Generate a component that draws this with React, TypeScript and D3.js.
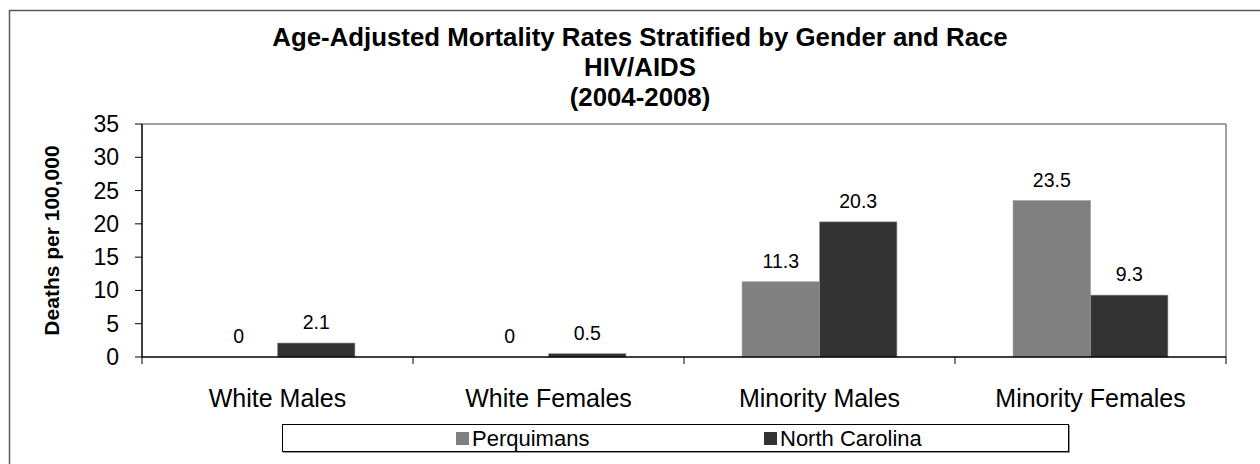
import React from 'react';
import * as d3 from 'd3';

const categories = ['White Males', 'White Females', 'Minority Males', 'Minority Females'];
const seriesNames = ['Perquimans', 'North Carolina'];
const perquimans = [0, 0, 11.3, 23.5];
const northCarolina = [2.1, 0.5, 20.3, 9.3];
const yTicks = [0, 5, 10, 15, 20, 25, 30, 35];
const titleLines = ['Age-Adjusted Mortality Rates Stratified by Gender and Race', 'HIV/AIDS', '(2004-2008)'];

const colors = ['#808080', '#333333'];
const font = 'Arial, "Liberation Sans", sans-serif';

const W = 1260;
const H = 464;
const plot = { left: 142, right: 1226, top: 124, bottom: 357 };

export default function App() {
  const x0 = d3.scaleBand<string>().domain(categories).range([plot.left, plot.right]).padding(0);
  const x1 = d3
    .scaleBand<string>()
    .domain(seriesNames)
    .range([0, x0.bandwidth()])
    .paddingInner(0)
    .paddingOuter(0.75);
  const y = d3.scaleLinear().domain([0, 35]).range([plot.bottom, plot.top]);
  const color = d3.scaleOrdinal<string, string>().domain(seriesNames).range(colors);

  const values = [perquimans, northCarolina];

  // category boundaries for the x ticks
  const xTickPos = categories.map(c => x0(c) as number).concat([plot.right]);

  return (
    <svg width={W} height={H} style={{ position: 'absolute', left: 0, top: 0, background: '#fff' }} fontFamily={font}>
      <rect x={9.5} y={10.5} width={W + 20} height={H + 20} fill="#fff" stroke="#595959" strokeWidth={1.5} />

      {titleLines.map((t, i) => (
        <text key={i} x={640} y={46 + i * 30} textAnchor="middle" fontWeight="bold" fontSize={25.8} fill="#000">
          {t}
        </text>
      ))}

      {/* plot frame */}
      <line x1={plot.left} x2={plot.right} y1={plot.top} y2={plot.top} stroke="#808080" strokeWidth={1.5} />
      <line x1={plot.right} x2={plot.right} y1={plot.top} y2={plot.bottom} stroke="#808080" strokeWidth={1.5} />

      {/* bars */}
      {seriesNames.map((s, si) => (
        <g key={s}>
          {categories.map((c, ci) => {
            const v = values[si][ci];
            const bx = (x0(c) as number) + (x1(s) as number);
            const by = y(v);
            return (
              <g key={c}>
                {v > 0 && (
                  <rect
                    x={bx}
                    y={by}
                    width={x1.bandwidth()}
                    height={plot.bottom - by}
                    fill={color(s)}
                    stroke="#9a9a9a"
                    strokeWidth={0.6}
                  />
                )}
                <text x={bx + x1.bandwidth() / 2} y={by - 14} textAnchor="middle" fontSize={19.5} fill="#000">
                  {v}
                </text>
              </g>
            );
          })}
        </g>
      ))}

      {/* y axis */}
      <line x1={plot.left} x2={plot.left} y1={plot.top} y2={plot.bottom} stroke="#000" strokeWidth={1.5} />
      {yTicks.map(t => (
        <g key={t}>
          <line x1={plot.left - 7} x2={plot.left} y1={y(t)} y2={y(t)} stroke="#000" strokeWidth={1} />
          <text x={119} y={y(t) + 8} textAnchor="end" fontSize={23} fill="#000">
            {t}
          </text>
        </g>
      ))}
      <text
        transform={`translate(59,${(plot.top + plot.bottom) / 2}) rotate(-90)`}
        textAnchor="middle"
        fontWeight="bold"
        fontSize={21}
        fill="#000"
      >
        Deaths per 100,000
      </text>

      {/* x axis */}
      <line x1={plot.left} x2={plot.right} y1={plot.bottom} y2={plot.bottom} stroke="#000" strokeWidth={1.5} />
      {xTickPos.map((p, i) => (
        <line key={i} x1={p} x2={p} y1={plot.bottom} y2={plot.bottom + 7} stroke="#000" strokeWidth={1} />
      ))}
      {categories.map(c => (
        <text key={c} x={(x0(c) as number) + x0.bandwidth() / 2} y={407} textAnchor="middle" fontSize={25} fill="#000">
          {c}
        </text>
      ))}

      {/* legend */}
      <rect x={282.5} y={424.5} width={786} height={27} fill="#fff" stroke="#000" strokeWidth={1} />
      <line x1={283} x2={1069} y1={452.5} y2={452.5} stroke="#999" strokeWidth={1} />
      <line x1={1069.5} x2={1069.5} y1={425} y2={453} stroke="#999" strokeWidth={1} />
      {seriesNames.map((s, i) => {
        const lx = [456, 764][i];
        return (
          <g key={s}>
            <rect x={lx} y={432} width={13} height={13} fill={color(s)} />
            <text x={lx + 16} y={446} fontSize={22} fill="#000">
              {s}
            </text>
          </g>
        );
      })}
    </svg>
  );
}
